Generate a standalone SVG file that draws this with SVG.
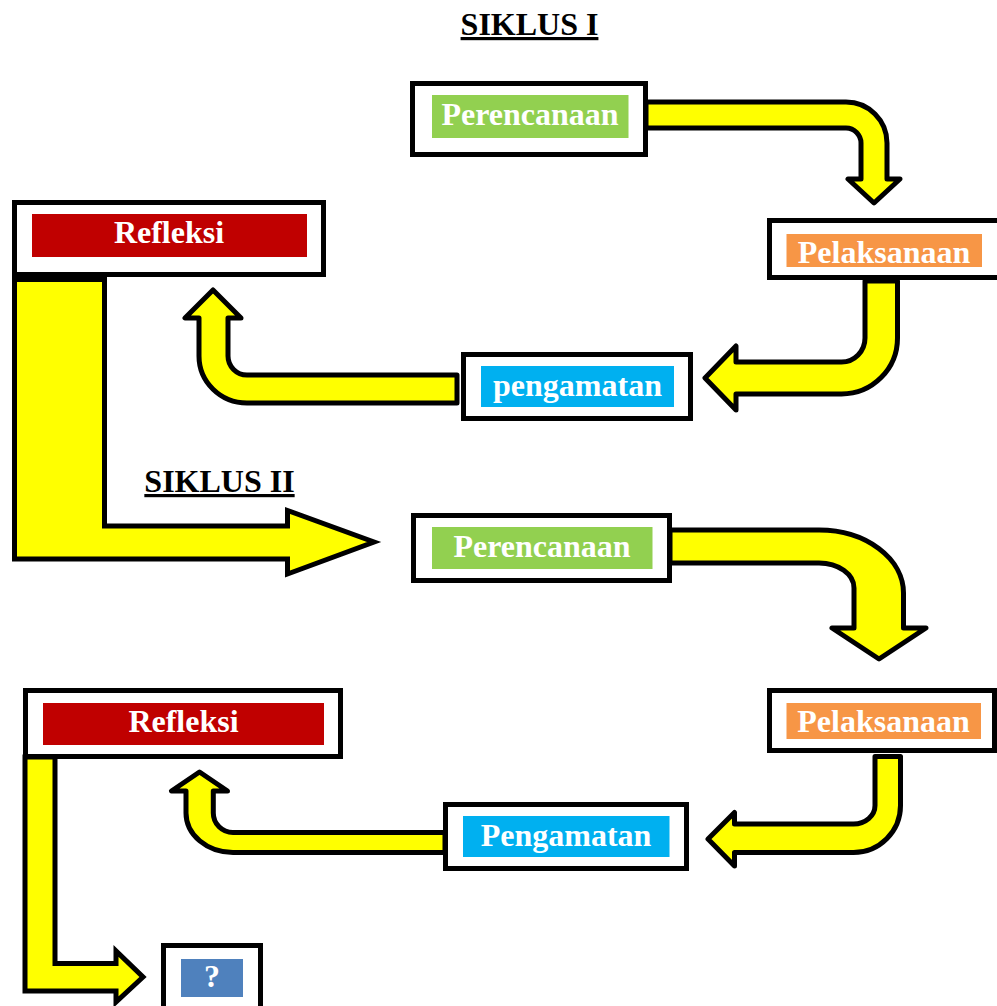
<svg xmlns="http://www.w3.org/2000/svg" width="997" height="1006" viewBox="0 0 997 1006">
<style>
.box{fill:#fff;stroke:#000;stroke-width:5}
.lbl{font-family:"Liberation Serif","Times New Roman",serif;font-weight:bold;font-size:32px;fill:#fff;text-anchor:middle}
.title{font-family:"Liberation Serif","Times New Roman",serif;font-weight:bold;font-size:32px;fill:#000;text-anchor:middle;text-decoration:underline}
.arr{fill:#FFFF00;stroke:#000;stroke-width:5;stroke-linejoin:round}
.arrL{fill:#FFFF00;stroke:#000;stroke-width:5;stroke-linejoin:miter;stroke-miterlimit:10}
</style>
<rect width="997" height="1006" fill="#fff"/>
<g id="connectors">
<path class="arr" d="M 646,102 H 846 A 41 41 0 0 1 887,143 V 179 H 900 L 874,203 L 848,179 H 861 V 143 A 15 15 0 0 0 846,128 H 646 Z"/>
<path class="arr" d="M 865,281 H 897.5 V 338 A 56 56 0 0 1 841.5,394 H 736 V 410 L 705,378 L 736,346 V 362 H 841.5 A 23.5 24 0 0 0 865,338 Z"/>
<path class="arr" d="M 457,375 H 247 A 19 19 0 0 1 228,356 V 318 H 241 L 213,290 L 185,318 H 199 V 356 A 48 47 0 0 0 247,403 H 457 Z"/>
<path class="arrL" d="M 14.5,279.5 H 104.5 V 526 H 287.5 V 510.5 L 374,542 L 287.5,574 V 559 H 14.5 Z"/>
<path class="arr" d="M 670,530 H 819 A 84.5 63 0 0 1 903.5,593 V 628 H 926 L 879,659 L 832,628 H 854 V 588 A 35 25 0 0 0 819,563 H 670 Z"/>
<path class="arr" d="M 875,756.5 H 900.5 V 805.5 A 47 47 0 0 1 853.5,852.5 H 734.5 V 866 L 708,839 L 734.5,812.5 V 824 H 853.5 A 21.5 18.5 0 0 0 875,805.5 Z"/>
<path class="arr" d="M 445,832.5 H 233 A 19.7 19.5 0 0 1 213.3,813 V 791 H 227.5 L 199.5,772 L 171.5,791 H 186 V 813 A 47 39.5 0 0 0 233,852.5 H 445 Z"/>
<path class="arrL" d="M 25,757 H 55 V 963.5 H 116 V 951 L 143,977 L 116,1002 V 991 H 25 Z"/>
</g>
<text class="title" x="529.5" y="35">SIKLUS I</text>
<text class="title" x="219.5" y="492">SIKLUS II</text>
<g id="perencanaan1">
<rect class="box" x="412.5" y="83.5" width="233" height="71"/>
<rect x="432" y="95" width="196.5" height="43" fill="#92D050"/>
<text class="lbl" x="530" y="125">Perencanaan</text>
</g>
<g id="pelaksanaan1">
<rect class="box" x="769.5" y="220.5" width="240" height="57"/>
<rect x="786.5" y="234" width="195.5" height="33" fill="#F79646"/>
<text class="lbl" x="884" y="263">Pelaksanaan</text>
</g>
<g id="pengamatan1">
<rect class="box" x="463.5" y="354.5" width="227" height="64"/>
<rect x="481" y="366" width="193" height="41" fill="#00B0F0"/>
<text class="lbl" x="577.5" y="396">pengamatan</text>
</g>
<g id="refleksi1">
<rect class="box" x="14.5" y="202.5" width="309" height="72"/>
<rect x="32" y="214" width="275" height="43" fill="#C00000"/>
<text class="lbl" x="169" y="243">Refleksi</text>
</g>
<g id="perencanaan2">
<rect class="box" x="413.5" y="515.5" width="256" height="65"/>
<rect x="432" y="527" width="220.5" height="42" fill="#92D050"/>
<text class="lbl" x="542" y="557">Perencanaan</text>
</g>
<g id="pelaksanaan2">
<rect class="box" x="769.5" y="690.5" width="225" height="60"/>
<rect x="786.5" y="703" width="194.5" height="36" fill="#F79646"/>
<text class="lbl" x="883.5" y="732">Pelaksanaan</text>
</g>
<g id="pengamatan2">
<rect class="box" x="445.5" y="804.5" width="241" height="64"/>
<rect x="463" y="816" width="206.5" height="41" fill="#00B0F0"/>
<text class="lbl" x="566" y="846">Pengamatan</text>
</g>
<g id="refleksi2">
<rect class="box" x="25.5" y="690.5" width="315" height="66"/>
<rect x="43" y="703" width="281" height="42" fill="#C00000"/>
<text class="lbl" x="183.5" y="732">Refleksi</text>
</g>
<g id="next">
<rect class="box" x="163.5" y="945.5" width="97" height="70"/>
<rect x="181" y="959" width="62" height="38" fill="#4F81BD"/>
<text class="lbl" x="212" y="987">?</text>
</g>
</svg>
